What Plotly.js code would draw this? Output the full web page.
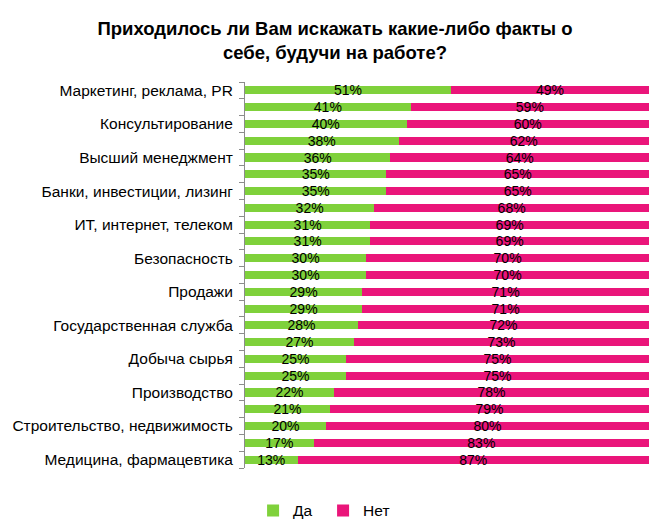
<!DOCTYPE html>
<html><head><meta charset="utf-8">
<script src="https://cdn.plot.ly/plotly-3.0.1.min.js"></script>
<style>html,body{margin:0;padding:0;background:#fff}#chart{width:670px;height:531px}</style>
</head><body><div id="chart"></div>
<script>
const categories = ["Маркетинг, реклама, PR","","Консультирование","","Высший менеджмент","","Банки, инвестиции, лизинг","","ИТ, интернет, телеком","","Безопасность","","Продажи","","Государственная служба","","Добыча сырья","","Производство","","Строительство, недвижимость","","Медицина, фармацевтика"];
const yesValues = [51,41,40,38,36,35,35,32,31,31,30,30,29,29,28,27,25,25,22,21,20,17,13];
const noValues  = [49,59,60,62,64,65,65,68,69,69,70,70,71,71,72,73,75,75,78,79,80,83,87];
const seriesNames = ["Да","Нет"];

const idx = categories.map((c,i)=>i);
const tickIdx = idx.filter(i=>categories[i]!=="");
const pct = v => v + "%";

const common = {type:'bar', orientation:'h', y:idx, textposition:'inside', insidetextanchor:'middle',
  constraintext:'none', textfont:{family:'Liberation Sans, Arial', size:14, color:'#000'}, hoverinfo:'skip'};
const data = [
  Object.assign({}, common, {name:seriesNames[0], x:yesValues, text:yesValues.map(pct), marker:{color:'#7fd13b'}}),
  Object.assign({}, common, {name:seriesNames[1], x:noValues, text:noValues.map(pct), marker:{color:'#ea157a'}})
];
const layout = {
  width:670, height:531, barmode:'stack', bargap:0.52,
  margin:{l:245, r:21, t:82, b:63, autoexpand:false},
  paper_bgcolor:'#fff', plot_bgcolor:'#fff',
  font:{family:'Liberation Sans, Arial', size:15.5, color:'#000'},
  title:{text:'<b>Приходилось ли Вам искажать какие-либо факты о<br>себе, будучи на работе?</b>',
    font:{family:'Liberation Sans, Arial', size:18.5, color:'#000'}, x:0.5, xanchor:'center', y:0.935, yanchor:'middle', yref:'container'},
  xaxis:{range:[0,100], visible:false, fixedrange:true},
  yaxis:{range:[22.5,-0.5], tickmode:'array', tickvals:tickIdx, ticktext:tickIdx.map(i=>categories[i]),
    ticks:'', showline:true, linecolor:'#8c8c8c', linewidth:1, showgrid:false, zeroline:false,
    tickfont:{family:'Liberation Sans, Arial', size:15.5, color:'#000'}, ticklabelstandoff:8,
    minor:{ticks:'outside', ticklen:5, tick0:-0.5, dtick:1, tickcolor:'#8c8c8c', showgrid:false}},
  showlegend:true,
  legend:{orientation:'h', x:0.02, xanchor:'left', yref:'container', y:0.038, yanchor:'middle', entrywidth:25, itemwidth:30,
    font:{family:'Liberation Sans, Arial', size:15.5, color:'#000'}, traceorder:'normal'}
};
Plotly.newPlot('chart', data, layout, {displayModeBar:false, staticPlot:true});
</script></body></html>
